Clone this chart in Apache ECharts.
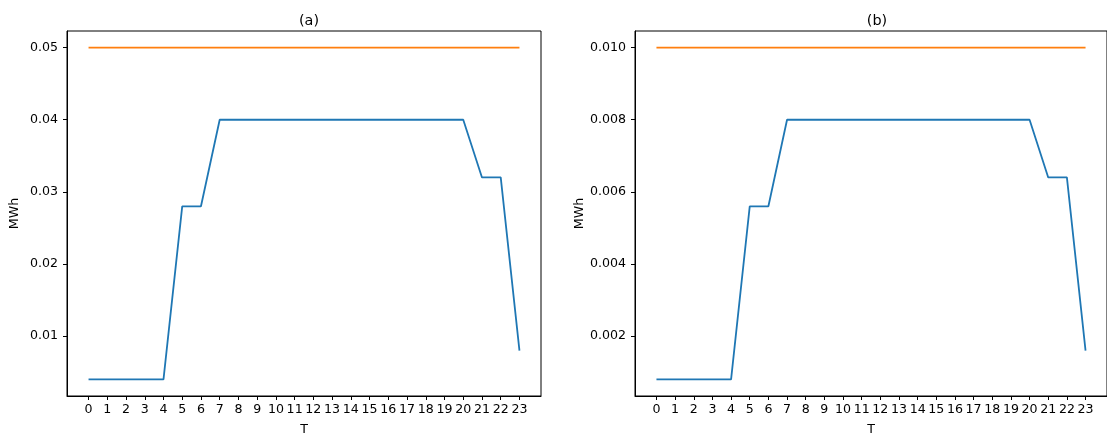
<!DOCTYPE html>
<html>
<head>
<meta charset="utf-8">
<script src="https://cdn.jsdelivr.net/npm/echarts@6/dist/echarts.min.js"></script>
<style>
  html, body { margin: 0; padding: 0; background: #fff; }
  #chart { width: 1107px; height: 441px; }
</style>
</head>
<body>
<div id="chart"></div>
<script>
// Hourly periods
const hours = [0,1,2,3,4,5,6,7,8,9,10,11,12,13,14,15,16,17,18,19,20,21,22,23];

// Panel (a): dispatched energy and capacity limit (MWh)
const energyA = [0.004,0.004,0.004,0.004,0.004,0.028,0.028,0.04,0.04,0.04,0.04,0.04,
                 0.04,0.04,0.04,0.04,0.04,0.04,0.04,0.04,0.04,0.032,0.032,0.008];
const limitA  = [0.05,0.05,0.05,0.05,0.05,0.05,0.05,0.05,0.05,0.05,0.05,0.05,
                 0.05,0.05,0.05,0.05,0.05,0.05,0.05,0.05,0.05,0.05,0.05,0.05];
const yTicksA = [0.01,0.02,0.03,0.04,0.05];

// Panel (b): dispatched energy and capacity limit (MWh)
const energyB = [0.0008,0.0008,0.0008,0.0008,0.0008,0.0056,0.0056,0.008,0.008,0.008,0.008,0.008,
                 0.008,0.008,0.008,0.008,0.008,0.008,0.008,0.008,0.008,0.0064,0.0064,0.0016];
const limitB  = [0.01,0.01,0.01,0.01,0.01,0.01,0.01,0.01,0.01,0.01,0.01,0.01,
                 0.01,0.01,0.01,0.01,0.01,0.01,0.01,0.01,0.01,0.01,0.01,0.01];
const yTicksB = [0.002,0.004,0.006,0.008,0.010];

const titles = ['(a)', '(b)'];
const xName = 'T';
const yName = 'MWh';

const FONT = 'DejaVu Sans';
const BLUE = '#1f77b4';
const ORANGE = '#ff7f0e';

function pad(lo, hi) { const m = (hi - lo) * 0.05; return [lo - m, hi + m]; }

const panels = [
  { energy: energyA, limit: limitA, ticks: yTicksA, digits: 2, left: 67 },
  { energy: energyB, limit: limitB, ticks: yTicksB, digits: 3, left: 635 }
];

const xr = pad(hours[0], hours[hours.length - 1]);

const option = {
  animation: false,
  backgroundColor: '#fff',
  title: panels.map((p, i) => ({
    text: titles[i],
    left: p.left + 237,
    top: 9,
    textAlign: 'center',
    textStyle: { fontFamily: FONT, fontSize: 14.4, fontWeight: 'normal', color: '#000' }
  })),
  grid: panels.map(p => ({
    left: p.left, top: 31, width: 474, height: 370,
    show: true, borderColor: '#000', borderWidth: 1, backgroundColor: 'transparent'
  })),
  xAxis: panels.map((p, i) => ({
    type: 'value', gridIndex: i, min: xr[0], max: xr[1],
    name: xName, nameLocation: 'middle', nameGap: 27,
    nameTextStyle: { fontFamily: FONT, fontSize: 12.6, color: '#000' },
    axisLine: { show: true, onZero: false, lineStyle: { color: '#000', width: 1 } },
    axisTick: { show: true, length: 4, inside: false, customValues: hours, lineStyle: { color: '#000' } },
    axisLabel: { customValues: hours, margin: 7, fontFamily: FONT, fontSize: 12.6, color: '#000',
                 formatter: v => String(Math.round(v)) },
    splitLine: { show: false }
  })),
  yAxis: panels.map((p, i) => {
    const all = p.energy.concat(p.limit);
    const yr = pad(Math.min(...all), Math.max(...all));
    return {
      type: 'value', gridIndex: i, min: yr[0], max: yr[1],
      name: yName, nameLocation: 'middle', nameGap: 46, nameRotate: 90,
      nameTextStyle: { fontFamily: FONT, fontSize: 12.6, color: '#000' },
      axisLine: { show: true, onZero: false, lineStyle: { color: '#000', width: 1 } },
      axisTick: { show: true, length: 4, inside: false, customValues: p.ticks, lineStyle: { color: '#000' } },
      axisLabel: { customValues: p.ticks, margin: 9, fontFamily: FONT, fontSize: 12.6, color: '#000',
                   formatter: v => v.toFixed(p.digits) },
      splitLine: { show: false }
    };
  }),
  series: panels.flatMap((p, i) => [
    {
      type: 'line', xAxisIndex: i, yAxisIndex: i, symbol: 'none',
      lineStyle: { color: BLUE, width: 1.8 },
      data: hours.map((h, k) => [h, p.energy[k]])
    },
    {
      type: 'line', xAxisIndex: i, yAxisIndex: i, symbol: 'none',
      lineStyle: { color: ORANGE, width: 1.8 },
      data: hours.map((h, k) => [h, p.limit[k]])
    }
  ])
};

const chart = echarts.init(document.getElementById('chart'), null, { renderer: 'canvas' });
chart.setOption(option);
</script>
</body>
</html>
